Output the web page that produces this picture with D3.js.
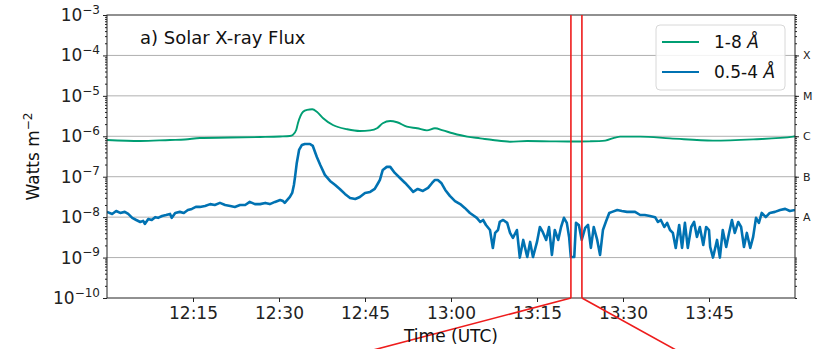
<!DOCTYPE html>
<html>
<head>
<meta charset="utf-8" />
<title>Solar X-ray Flux</title>
<script src="https://d3js.org/d3.v7.min.js"></script>
<style>
  body { margin: 0; background: #fff; font-family: "DejaVu Sans", sans-serif; }
  svg { display: block; }
  .grid line { stroke: #b0b0b0; stroke-width: 1; }
  .axis path, .axis line { stroke: #222; }
  .axis text { fill: #222; font-family: "DejaVu Sans", sans-serif; }
</style>
</head>
<body>
<svg width="814" height="349"></svg>
<script>
  // minutes after 12:00 UTC
  const longMin = [0, 5.8, 11.0, 13.6, 16.2, 21.5, 26.7, 30.2, 31.9, 32.4, 33.0, 33.3,
    34.2, 34.9, 35.8, 36.6, 37.7, 39.4, 41.9, 44.1, 45.9, 47.1, 48.1, 49.4,
    50.6, 52.3, 54.1, 55.8, 57.2, 58.6, 60.3, 62.8, 65.1, 67.3, 70.3, 73.3,
    77.3, 80.8, 84.2, 86.9, 88.6, 89.5, 93.0, 98.2, 105.7, 112.7, 119.7, 120];
  const longFlux = [8.1e-7, 7.65e-7, 8.1e-7, 8.3e-7, 9.1e-7, 9.3e-7, 9.6e-7, 9.9e-7, 1.02e-6, 1.08e-6, 1.43e-6, 2.1e-6,
    4.06e-6, 4.5e-6, 4.65e-6, 4.06e-6, 2.79e-6, 1.9e-6, 1.49e-6, 1.35e-6, 1.4e-6, 1.58e-6, 2.1e-6, 2.39e-6,
    2.22e-6, 1.73e-6, 1.58e-6, 1.4e-6, 1.58e-6, 1.4e-6, 1.19e-6, 9.8e-7, 8.9e-7, 8.1e-7, 7.35e-7, 7.65e-7,
    7.5e-7, 7.4e-7, 7.5e-7, 7.8e-7, 9.3e-7, 9.8e-7, 9.8e-7, 8.9e-7, 7.8e-7, 8.4e-7, 9.8e-7, 1.0e-6];

  const shortMin = [
    0, 0.9, 1.6, 2.3, 3.1, 3.7,
    4.4, 5.1, 5.8, 6.3, 6.6, 7.2, 7.8, 8.4, 8.9,
    9.6, 10.3, 11.0, 11.3, 11.9, 12.7, 13.4, 14.1, 14.8, 15.5, 16.2,
    17.1, 18.0, 18.8, 19.7, 20.6, 21.5, 22.3, 23.2, 24.1, 24.9, 25.8, 26.7, 27.6, 28.4, 29.3, 30.2,
    30.7, 31.0, 31.6, 31.9, 32.3, 32.6, 32.8, 33.1, 33.5, 34.0, 34.5, 35.4, 35.9,
    36.6, 37.2, 38.0, 38.9, 39.8, 40.6, 41.5, 42.4, 43.3, 44.1, 45.0, 45.9, 46.7, 47.3,
    47.6, 48.1, 48.8, 49.4, 50.2, 51.1, 52.0, 52.8, 53.4, 54.2, 55.1, 56.0, 56.7, 57.2, 57.7, 58.3, 59.0,
    59.8, 60.7, 61.6, 62.4, 63.3, 63.8, 64.5, 65.1, 65.6, 66.1, 66.8, 67.3, 67.7, 68.2,
    68.5, 69.1, 69.8, 70.3, 70.8, 71.5, 72.0, 72.6, 73.3, 73.8, 74.3, 75.0,
    75.5, 76.0, 76.6, 77.1, 77.6, 78.1, 78.7, 79.2, 79.7, 80.2, 80.6, 80.9, 81.5,
    81.8, 82.3, 82.8, 83.4, 83.9, 84.4, 84.9, 85.5, 86.0, 86.5, 87.0,
    87.6, 88.1, 89.0, 89.8, 90.7, 91.2, 92.1, 93.0, 93.8, 94.7, 95.6,
    96.1, 96.6, 97.2, 97.7, 98.2, 98.7, 99.2, 99.8, 100.3, 100.8, 101.3, 101.9, 102.4, 102.9, 103.4, 104.0, 104.5, 105.0,
    105.2, 105.7, 106.4, 106.9, 107.4, 108.0, 108.5, 109.0, 109.5, 110.1, 110.6, 111.1, 111.6, 112.2, 112.7, 113.2, 113.7,
    114.2, 114.9, 115.6, 116.5, 117.4, 118.3, 119.1, 120.0];
  const shortFlux = [
    1.35e-8, 1.2e-8, 1.42e-8, 1.27e-8, 1.35e-8, 1.2e-8,
    9.6e-9, 8.5e-9, 7.6e-9, 8.1e-9, 6.8e-9, 9.0e-9, 8.5e-9, 1.0e-8, 9.6e-9,
    1.07e-8, 1.13e-8, 1.2e-8, 9.6e-9, 1.27e-8, 1.35e-8, 1.27e-8, 1.5e-8, 1.6e-8, 1.79e-8, 1.79e-8,
    1.89e-8, 2.1e-8, 2.0e-8, 2.25e-8, 2.0e-8, 1.89e-8, 1.79e-8, 2.0e-8, 2.0e-8, 2.38e-8, 2.1e-8, 2.1e-8, 2.25e-8, 2.1e-8, 2.38e-8, 2.66e-8,
    2.5e-8, 2.25e-8, 2.82e-8, 3.16e-8, 3.97e-8, 6.25e-8, 9.9e-8, 2.19e-7, 4.6e-7, 6.1e-7, 6.46e-7, 6.46e-7, 5.77e-7,
    3.08e-7, 1.95e-7, 1.11e-7, 7.86e-8, 6.25e-8, 4.98e-8, 3.75e-8, 2.99e-8, 2.82e-8, 3.16e-8, 3.97e-8, 4.2e-8, 4.98e-8, 7.0e-8,
    8.32e-8, 1.47e-7, 1.75e-7, 1.75e-7, 1.24e-7, 9.3e-8, 7.0e-8, 5.28e-8, 4.2e-8, 4.98e-8, 4.45e-8, 5.28e-8, 7.0e-8, 8.32e-8, 8.32e-8, 7.0e-8, 4.7e-8,
    3.35e-8, 2.5e-8, 2.1e-8, 1.69e-8, 1.27e-8, 1.13e-8, 9.6e-9, 7.6e-9, 8.5e-9, 6.4e-9, 4.8e-9, 1.73e-9, 4.07e-9, 4.8e-9,
    7.6e-9, 8.5e-9, 7.2e-9, 4.07e-9, 3.06e-9, 4.8e-9, 1.0e-9, 2.73e-9, 1.03e-9, 2.44e-9, 1.03e-9, 2.44e-9,
    5.7e-9, 4.3e-9, 2.73e-9, 5.7e-9, 1.16e-9, 4.8e-9, 2.73e-9, 5.7e-9, 9.6e-9, 7.2e-9, 3.24e-9, 1.03e-9, 1.03e-9,
    7.2e-9, 6.4e-9, 2.73e-9, 5.4e-9, 6.4e-9, 1.73e-9, 5.7e-9, 2.73e-9, 1.16e-9, 4.8e-9, 7.6e-9,
    1.27e-8, 1.35e-8, 1.5e-8, 1.42e-8, 1.35e-8, 1.35e-8, 1.35e-8, 1.13e-8, 1.13e-8, 1.07e-8, 1.0e-8,
    7.6e-9, 8.5e-9, 5.7e-9, 7.2e-9, 4.8e-9, 4.07e-9, 1.73e-9, 6.4e-9, 1.73e-9, 7.2e-9, 1.73e-9, 5.7e-9, 7.6e-9, 3.24e-9, 5.7e-9, 2.05e-9, 5.7e-9, 4.8e-9,
    1.83e-9, 1.0e-9, 2.73e-9, 1.0e-9, 4.8e-9, 1.83e-9, 4.07e-9, 8.5e-9, 4.07e-9, 7.6e-9, 5.7e-9, 1.83e-9, 4.07e-9, 1.73e-9, 3.24e-9, 9.6e-9, 7.2e-9,
    1.27e-8, 1.0e-8, 1.27e-8, 1.35e-8, 1.5e-8, 1.6e-8, 1.42e-8, 1.5e-8];

  const timeTicks = ["12:15", "12:30", "12:45", "13:00", "13:15", "13:30", "13:45"];
  const decadeExp = [-10, -9, -8, -7, -6, -5, -4, -3];
  const goesClass = ["A", "B", "C", "M", "X"];
  const goesExp = [-8, -7, -6, -5, -4];
  const zoomWindow = ["13:20:55", "13:22:50"];
  const seriesNames = ["1-8 ", "0.5-4 "];
  const seriesColors = ["#009E73", "#0072B2"];

  const svg = d3.select("svg");
  const W = 814, H = 349;
  const margin = { top: 15, right: 19, bottom: 51, left: 107 };
  const w = W - margin.left - margin.right,
        h = H - margin.top - margin.bottom;

  const day = "2017-09-10T";
  const t0 = new Date(day + "12:00:00Z"), t1 = new Date(day + "14:00:00Z");
  const atMin = m => new Date(t0.getTime() + m * 60000);
  const atClock = s => new Date(day + (s.length === 5 ? s + ":00" : s) + "Z");

  const x = d3.scaleUtc().domain([t0, t1]).range([0, w]);
  const y = d3.scaleLog().domain([1e-10, 1e-3]).range([h, 0]);

  const g = svg.append("g").attr("transform", `translate(${margin.left},${margin.top})`);

  g.append("clipPath").attr("id", "clip")
    .append("rect").attr("width", w).attr("height", h);

  // grid
  g.append("g").attr("class", "grid")
    .selectAll("line").data(decadeExp.slice(1, -1))
    .join("line")
    .attr("x1", 0).attr("x2", w)
    .attr("y1", d => y(Math.pow(10, d))).attr("y2", d => y(Math.pow(10, d)));

  const minorVals = [];
  decadeExp.slice(0, -1).forEach(e => {
    for (let k = 2; k <= 9; k++) minorVals.push(k * Math.pow(10, e));
  });

  // left axis
  const yLeft = g.append("g").attr("class", "axis")
    .call(d3.axisLeft(y).tickValues(decadeExp.map(e => Math.pow(10, e))).tickSize(4).tickPadding(3).tickFormat(""));
  yLeft.select(".domain").remove();
  yLeft.selectAll(".tick text").each(function (d) {
    const t = d3.select(this).text(null).style("font-size", "17px");
    const e = Math.round(Math.log10(d));
    t.append("tspan").text("10");
    t.append("tspan").attr("dy", "-0.6em").style("font-size", "12px").text("\u2212" + Math.abs(e));
  });
  g.append("g").attr("class", "axis")
    .call(d3.axisLeft(y).tickValues(minorVals).tickSize(2).tickFormat(""))
    .select(".domain").remove();

  // right axis with GOES classes
  const yRight = g.append("g").attr("class", "axis").attr("transform", `translate(${w},0)`)
    .call(d3.axisRight(y).tickValues(goesExp.map(e => Math.pow(10, e))).tickSize(4).tickPadding(4)
      .tickFormat((d, i) => goesClass[i]));
  yRight.select(".domain").remove();
  yRight.selectAll(".tick text").style("font-size", "11px");
  g.append("g").attr("class", "axis").attr("transform", `translate(${w},0)`)
    .call(d3.axisRight(y).tickValues(minorVals.concat(decadeExp.map(e => Math.pow(10, e)))).tickSize(2).tickFormat(""))
    .select(".domain").remove();

  // bottom axis
  const xAxis = g.append("g").attr("class", "axis").attr("transform", `translate(0,${h})`)
    .call(d3.axisBottom(x).tickValues(timeTicks.map(atClock)).tickSize(4).tickPadding(4.5)
      .tickFormat(d3.utcFormat("%H:%M")));
  xAxis.select(".domain").remove();
  xAxis.selectAll(".tick text").style("font-size", "17px");

  // data lines
  const plot = g.append("g").attr("clip-path", "url(#clip)");
  const longData = longMin.map((m, i) => ({ t: atMin(m), v: longFlux[i] }));
  const shortData = shortMin.map((m, i) => ({ t: atMin(m), v: shortFlux[i] }));

  plot.append("path").datum(longData)
    .attr("fill", "none").attr("stroke", seriesColors[0]).attr("stroke-width", 1.9)
    .attr("d", d3.line().x(d => x(d.t)).y(d => y(d.v)).curve(d3.curveMonotoneX));
  plot.append("path").datum(shortData)
    .attr("fill", "none").attr("stroke", seriesColors[1]).attr("stroke-width", 2.6)
    .attr("stroke-linejoin", "round")
    .attr("d", d3.line().x(d => x(d.t)).y(d => y(d.v)));

  // frame
  g.append("rect").attr("width", w).attr("height", h)
    .attr("fill", "none").attr("stroke", "#222").attr("stroke-width", 1);

  // zoom window markers
  const zx = zoomWindow.map(s => x(atClock(s)));
  const red = g.append("g").attr("stroke", "#ee1c1c").attr("stroke-width", 1.6);
  zx.forEach(v => red.append("line").attr("x1", v).attr("x2", v).attr("y1", 0).attr("y2", h));
  const drop = 60;
  red.append("line").attr("x1", zx[0]).attr("y1", h).attr("x2", zx[0] - drop / 0.263).attr("y2", h + drop);
  red.append("line").attr("x1", zx[1]).attr("y1", h).attr("x2", zx[1] + drop / 0.553).attr("y2", h + drop);

  // title
  g.append("text").attr("x", 33).attr("y", 29)
    .style("font-size", "18px").attr("fill", "#111").text("a) Solar X-ray Flux");

  // legend
  const lg = g.append("g").attr("transform", `translate(${w - 139},10)`);
  lg.append("rect").attr("width", 129).attr("height", 65).attr("rx", 4)
    .attr("fill", "#fff").attr("fill-opacity", 0.85).attr("stroke", "#d8d8d8");
  seriesNames.forEach((n, i) => {
    const row = lg.append("g").attr("transform", `translate(0,${17 + i * 30})`);
    row.append("line").attr("x1", 6).attr("x2", 43).attr("stroke", seriesColors[i]).attr("stroke-width", 1.8);
    const t = row.append("text").attr("x", 58).attr("dy", "0.35em").style("font-size", "17px").attr("fill", "#111");
    t.append("tspan").text(n);
    t.append("tspan").style("font-style", "italic").text("\u00c5");
  });

  // axis titles
  const yl = g.append("text").attr("transform", `translate(-68,${h / 2}) rotate(-90)`)
    .attr("text-anchor", "middle").style("font-size", "17px").attr("fill", "#111");
  yl.append("tspan").text("Watts m");
  yl.append("tspan").attr("dy", "-0.6em").style("font-size", "12px").text("\u22122");

  g.append("text").attr("x", w / 2).attr("y", h + 44)
    .attr("text-anchor", "middle").style("font-size", "17px").attr("fill", "#111").text("Time (UTC)");
</script>
</body>
</html>
